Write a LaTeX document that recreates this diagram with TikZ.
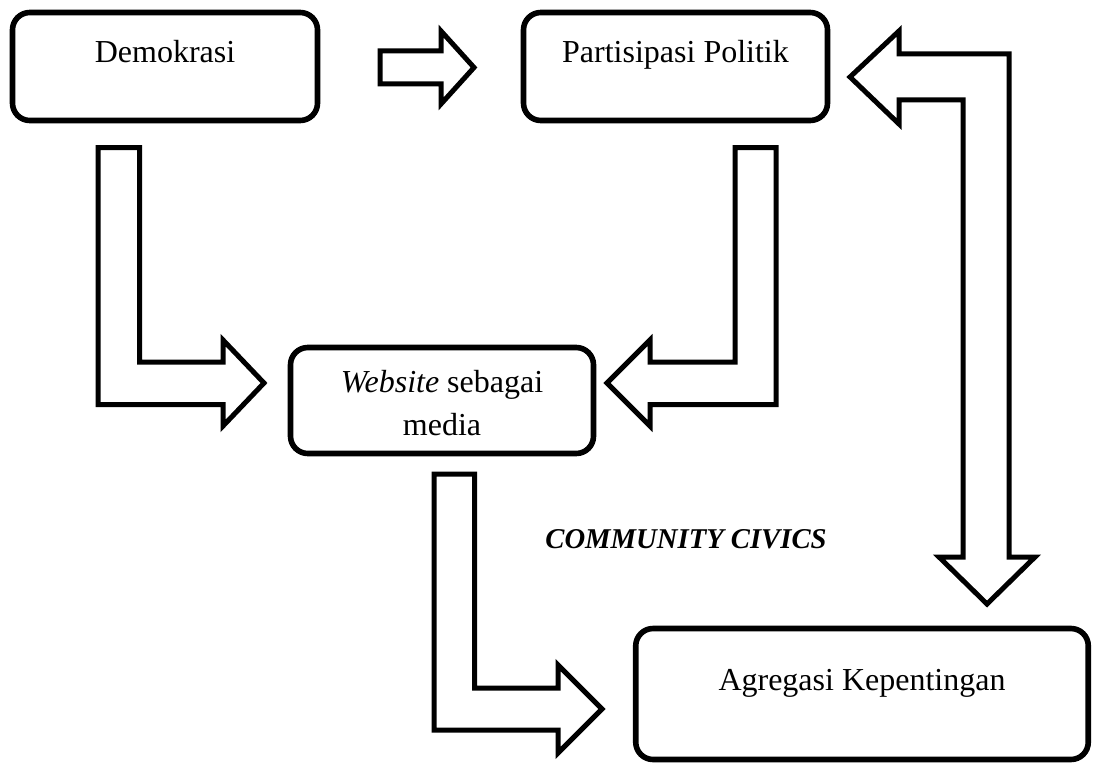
\documentclass[tikz,border=0pt]{standalone}
\usepackage{fontspec}
\setmainfont{Liberation Serif}
\begin{document}
\begin{tikzpicture}[x=0.75pt,y=-0.75pt,
  box/.style={draw=black,line width=4.2pt,rounded corners=13pt,inner sep=0pt},
  blockarrow/.style={draw=black,line width=3.75pt,fill=white,line join=miter},
  lbl/.style={anchor=base,inner sep=0pt,font=\fontsize{24}{32}\selectfont},
  civ/.style={anchor=base,inner sep=0pt,font=\fontsize{21.5}{26}\selectfont\bfseries\itshape}]
\useasboundingbox (0,0) rectangle (1094,763);
% boxes
\node[box,minimum width=228.75pt,minimum height=81pt] (demo) at (165,66.5) {};
\node[box,minimum width=228pt,minimum height=81pt] (part) at (675.5,66.5) {};
\node[box,minimum width=227.25pt,minimum height=79.5pt] (web) at (442,400.5) {};
\node[box,minimum width=339.4pt,minimum height=98.25pt] (agr) at (862,694) {};
% texts
\node[lbl] (demotxt) at (165,63) {Demokrasi};
\node[lbl] (parttxt) at (675.5,63) {Partisipasi Politik};
\node[lbl] (webtxt) at (442,392) {\textit{Website} sebagai};
\node[lbl] (webtxtb) at (442,435) {media};
\node[lbl] (agrtxt) at (862,690) {Agregasi Kepentingan};
\node[civ] (civics) at (686,548) {COMMUNITY CIVICS};
% block arrows
\draw[blockarrow] (380,51) -- (441,51) -- (441,31) -- (474,67.5) -- (441,104) -- (441,84) -- (380,84) -- cycle;
\draw[blockarrow] (98,147.5) -- (139.5,147.5) -- (139.5,362) -- (223,362) -- (223,340) -- (264,383) -- (223,426) -- (223,404.5) -- (98,404.5) -- cycle;
\draw[blockarrow] (776,147.5) -- (735,147.5) -- (735,362) -- (650,362) -- (650,340) -- (607,383) -- (650,426) -- (650,404.5) -- (776,404.5) -- cycle;
\draw[blockarrow] (850,77) -- (899,31) -- (899,54) -- (1009,54) -- (1009,557) -- (1035,557) -- (987,604) -- (939,557) -- (963,557) -- (963,100) -- (899,100) -- (899,124) -- cycle;
\draw[blockarrow] (434,474) -- (474.5,474) -- (474.5,688) -- (558,688) -- (558,665) -- (602,709) -- (558,753) -- (558,730) -- (434,730) -- cycle;
\end{tikzpicture}
\end{document}
